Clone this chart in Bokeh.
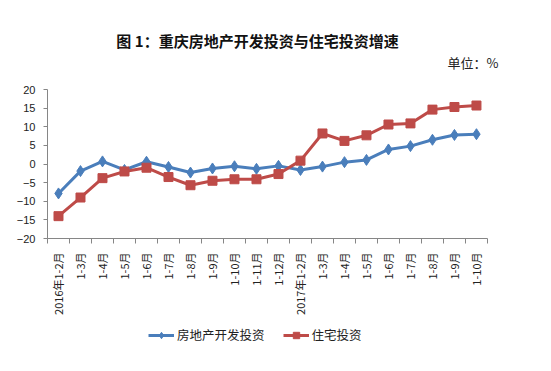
import math
from bokeh.plotting import figure
from bokeh.layouts import column
from bokeh.models import (Range1d, FixedTicker, Label, Legend, LegendItem)
from bokeh.embed import file_html
from bokeh.resources import INLINE

categories = ["2016年1-2月", "1-3月", "1-4月", "1-5月", "1-6月", "1-7月", "1-8月",
              "1-9月", "1-10月", "1-11月", "1-12月", "2017年1-2月", "1-3月", "1-4月",
              "1-5月", "1-6月", "1-7月", "1-8月", "1-9月", "1-10月"]
real_estate = [-7.9, -1.9, 0.7, -1.6, 0.6, -0.8, -2.3, -1.2, -0.6, -1.3, -0.5,
               -1.6, -0.7, 0.5, 1.1, 3.9, 4.8, 6.5, 7.8, 8.0]
housing = [-14.0, -9.0, -3.8, -2.0, -1.0, -3.5, -5.7, -4.5, -4.1, -4.1, -2.7,
           0.9, 8.2, 6.2, 7.7, 10.6, 10.9, 14.6, 15.3, 15.7]
y_ticks = [-20, -15, -10, -5, 0, 5, 10, 15, 20]
series_names = ["房地产开发投资", "住宅投资"]
title_text = "图 1：重庆房地产开发投资与住宅投资增速"
unit_text = "单位：%"

BLUE = "#4A7EBB"
RED = "#BE4B48"
CJK = "Noto Sans CJK SC"
W = 535
LEFT = 47      # frame left edge (px)
RIGHT = 30     # right border (px); frame spans 47..505
FRAME_W = W - LEFT - RIGHT

n = len(categories)
xs = [i + 0.5 for i in range(n)]
x_extra = 0.82  # empty room right of the last category (axis line is bounded to the data)

# ---- header strip (title and unit), pixel-like coordinates ----
HEAD_H = 83
h = figure(width=W, height=HEAD_H, output_backend="svg", toolbar_location=None,
           x_range=Range1d(LEFT, LEFT + FRAME_W), y_range=Range1d(0, HEAD_H),
           x_axis_location=None, y_axis_location=None,
           min_border_left=LEFT, min_border_right=RIGHT, min_border_top=0,
           min_border_bottom=0)
h.outline_line_color = None
h.grid.visible = False
h.add_layout(Label(x=257, y=HEAD_H - 40, text=title_text, text_font=CJK,
                   text_font_size="15px", text_font_style="bold", text_color="#111111",
                   text_align="center", text_baseline="middle"))
h.add_layout(Label(x=498, y=HEAD_H - 62, text=unit_text, text_font=CJK,
                   text_font_size="13px", text_color="#222222",
                   text_align="right", text_baseline="middle"))

# ---- main chart ----
p = figure(width=W, height=237, output_backend="svg", toolbar_location=None,
           x_range=Range1d(0, n + x_extra), y_range=Range1d(-20, 20),
           min_border_left=LEFT, min_border_right=RIGHT, min_border_top=6,
           min_border_bottom=82)
p.outline_line_color = None
p.xgrid.grid_line_color = None
p.ygrid.grid_line_color = None
p.background_fill_color = "white"

# x axis: labels at category centres, tick marks between categories
p.xaxis.bounds = (0, n)
p.xaxis.ticker = FixedTicker(ticks=xs, minor_ticks=list(range(n + 1)))
p.xaxis.major_label_overrides = {x: c for x, c in zip(xs, categories)}
p.xaxis.major_label_orientation = math.pi / 2
p.xaxis.major_tick_out = 0
p.xaxis.major_tick_in = 0
p.xaxis.minor_tick_out = 5
p.xaxis.minor_tick_in = 0
p.xaxis.minor_tick_line_color = "#868686"
p.xaxis.axis_line_color = "#868686"
p.xaxis.major_label_standoff = 9
p.xaxis.major_label_text_font = CJK
p.xaxis.major_label_text_font_size = "11px"
p.xaxis.major_label_text_color = "#222222"

p.yaxis.ticker = FixedTicker(ticks=y_ticks)
p.yaxis.major_tick_out = 4
p.yaxis.major_tick_in = 0
p.yaxis.minor_tick_out = 0
p.yaxis.minor_tick_in = 0
p.yaxis.major_tick_line_color = "#868686"
p.yaxis.axis_line_color = "#868686"
p.yaxis.major_label_standoff = 8
p.yaxis.major_label_text_font = "Liberation Sans"
p.yaxis.major_label_text_font_size = "11px"
p.yaxis.major_label_text_color = "#222222"

p.line(xs, real_estate, line_color=BLUE, line_width=3)
p.scatter(xs, real_estate, marker="diamond", size=11, fill_color=BLUE, line_color=BLUE)
p.line(xs, housing, line_color=RED, line_width=3)
p.scatter(xs, housing, marker="square", size=9, fill_color=RED, line_color=RED)

# ---- legend strip below the chart (renderers sit outside the visible range) ----
q = figure(width=W, height=35, output_backend="svg", toolbar_location=None,
           x_range=Range1d(0, 1), y_range=Range1d(0, 1),
           x_axis_location=None, y_axis_location=None,
           min_border_left=LEFT, min_border_right=RIGHT, min_border_top=0,
           min_border_bottom=0)
q.outline_line_color = None
q.grid.visible = False
hidden_x = [-3, -2]
hidden_y = [0.5, 0.5]
ql1 = q.line(hidden_x, hidden_y, line_color=BLUE, line_width=3)
qm1 = q.scatter(hidden_x, hidden_y, marker="diamond", size=9, fill_color=BLUE, line_color=BLUE)
ql2 = q.line(hidden_x, hidden_y, line_color=RED, line_width=3)
qm2 = q.scatter(hidden_x, hidden_y, marker="square", size=8, fill_color=RED, line_color=RED)

legend = Legend(items=[LegendItem(label=series_names[0], renderers=[ql1, qm1]),
                       LegendItem(label=series_names[1], renderers=[ql2, qm2])],
                orientation="horizontal", location=(101, 11),
                padding=0, margin=0, spacing=18, glyph_width=26, glyph_height=16,
                label_standoff=3, label_text_font=CJK, label_text_font_size="12.5px",
                label_text_color="#222222", border_line_color=None,
                background_fill_alpha=0)
q.add_layout(legend, "center")

layout = column(h, p, q, spacing=0)
open("out.html", "w").write(file_html(layout, INLINE))
